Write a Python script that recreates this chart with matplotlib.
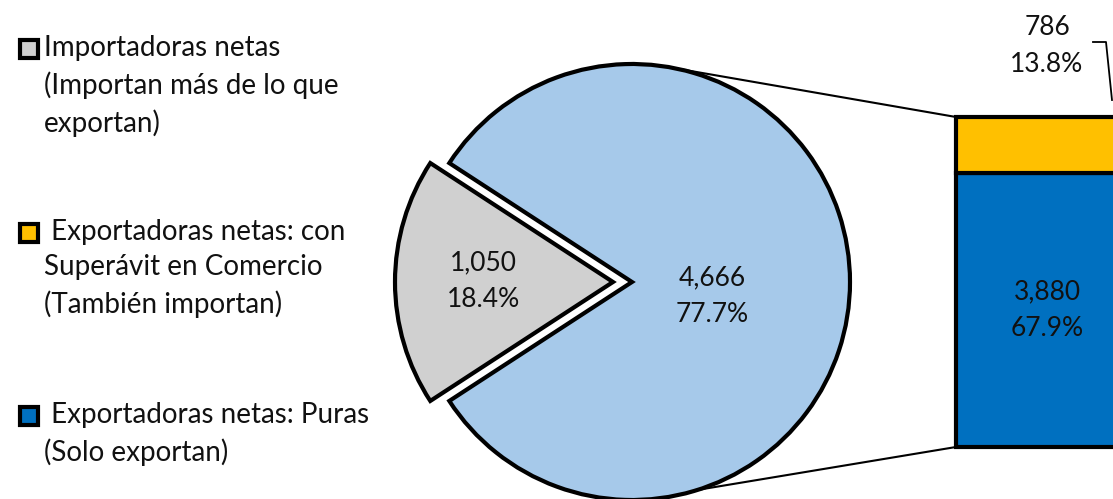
import matplotlib.pyplot as plt
from matplotlib.patches import Rectangle, ConnectionPatch
import numpy as np

plt.rcParams['font.family'] = ['Lato', 'DejaVu Sans']

# data
pie_values = [1050, 4666]
pie_labels = ['1,050\n18.4%', '4,666\n77.7%']
pie_colors = ['#D0D0D0', '#A6C9EA']
bar_values = [3880, 786]
bar_labels = ['3,880\n67.9%', '786\n13.8%']
bar_colors = ['#0070C0', '#FFC000']
legend_texts = ['Importadoras netas\n(Importan más de lo que\nexportan)',
                ' Exportadoras netas: con\nSuperávit en Comercio\n(También importan)',
                ' Exportadoras netas: Puras\n(Solo exportan)']
legend_colors = ['#D0D0D0', '#FFC000', '#0070C0']

W, H = 1113, 499
fig = plt.figure(figsize=(W / 100, H / 100), dpi=100)
ax = fig.add_axes([0, 0, 1, 1])

cx, cy, r = 632, 217, 218
gray_share = pie_values[0] / sum(pie_values) * 360
start = 180 - gray_share / 2
wedges, _ = ax.pie(pie_values, colors=pie_colors, startangle=start, radius=r,
                   center=(cx, cy), explode=[19, 0],
                   wedgeprops=dict(edgecolor='black', linewidth=3))
ax.set_xlim(0, W)
ax.set_ylim(0, H)
ax.set_aspect('equal')
ax.axis('off')

fs = 19
ls = 1.6
# pie labels
for w, lab, dist, dy in zip(wedges, pie_labels, [0.68, 0.37], [1, -14]):
    ang = np.deg2rad((w.theta1 + w.theta2) / 2)
    ax.text(cx + dist * r * np.cos(ang), cy + dist * r * np.sin(ang) + dy, lab,
            ha='center', va='center', fontsize=fs, linespacing=ls, color='#111111')

# stacked bar on its own axes
bx = fig.add_axes([956 / W, 52 / H, 182 / W, 330 / H])
bottom = 0
for v, c in zip(bar_values, bar_colors):
    bx.bar(0, v, bottom=bottom, width=1, color=c, edgecolor='black', linewidth=3, clip_on=False)
    bottom += v
bx.set_xlim(-0.5, 0.5)
bx.set_ylim(0, sum(bar_values))
bx.axis('off')
bx.text(0, bar_values[0] / 2 - 5, bar_labels[0], ha='center', va='center',
        fontsize=fs, linespacing=ls, color='#111111')
bx.text(0, sum(bar_values) + 1010, bar_labels[1], ha='center', va='center',
        fontsize=fs, linespacing=ls, color='#111111', clip_on=False)

# leader line for small segment
ax.plot([1093, 1106, 1112], [H - 42, H - 42, H - 100], color='black', lw=1.3, clip_on=False)

# connector lines pie -> bar
for ang, yb in [(79, sum(bar_values)), (-72.5, 0)]:
    a = np.deg2rad(ang)
    con = ConnectionPatch(xyA=(cx + r * np.cos(a), cy + r * np.sin(a)), coordsA=ax.transData,
                          xyB=(-0.5, yb), coordsB=bx.transData, color='black', lw=1.5)
    fig.add_artist(con)

# legend
for ytop, txt, c in zip([35, 219, 402], legend_texts, legend_colors):
    ax.add_patch(Rectangle((20, H - ytop - 23), 18, 18, facecolor=c, edgecolor='black', lw=3))
    ax.text(44, H - ytop, txt, ha='left', va='top', fontsize=20, linespacing=1.45,
            color='#111111')

fig.savefig('out.png', dpi=100)
